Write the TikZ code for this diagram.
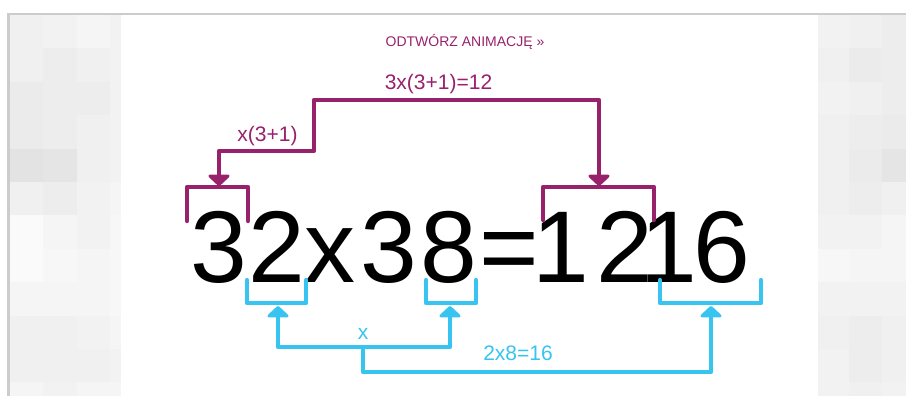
\documentclass[tikz,border=0pt]{standalone}
\usepackage{fontspec}
\setmainfont{Liberation Sans}
\usetikzlibrary{arrows.meta,positioning}
\definecolor{mag}{RGB}{152,33,108}
\definecolor{sky}{RGB}{56,196,240}

\begin{document}
\begin{tikzpicture}[x=1pt,y=-1pt,
    digit/.style={inner sep=0pt,anchor=base,font=\fontsize{102}{102}\selectfont},
    lbl/.style={inner sep=0pt,anchor=base,font=\fontsize{21}{21}\selectfont},
    magline/.style={draw=mag,line width=4.2pt,line join=round,line cap=round},
    skyline/.style={draw=sky,line width=4.2pt,line join=round,line cap=round},
    headarrow/.style={-{Triangle[width=25pt,length=12pt,round]}},
    twoheads/.style={{Triangle[width=25pt,length=12pt,round]}-{Triangle[width=25pt,length=12pt,round]}}]
  \useasboundingbox (0,0) rectangle (906,396);
  % grey side panels
  \foreach \r/\a/\b/\c/\d/\e/\f/\g in {0/6/5/4/5/5/6/7, 1/6/7/6/5/6/8/7, 2/8/7/7/5/5/6/7,
      3/8/7/6/5/6/7/8, 4/11/10/6/5/6/8/10, 5/6/7/5/4/6/7/6, 6/2/4/5/3/5/5/4,
      7/2/3/4/3/3/4/4, 8/4/4/4/3/5/5/5, 9/6/6/5/4/6/7/6, 10/6/6/6/5/5/7/6, 11/4/5/4/4/5/6/5} {
    \fill[black!\a] (10,{15+33.4*\r}) rectangle (43,{48.4+33.4*\r});
    \fill[black!\b] (43,{15+33.4*\r}) rectangle (77,{48.4+33.4*\r});
    \fill[black!\c] (77,{15+33.4*\r}) rectangle (110,{48.4+33.4*\r});
    \fill[black!\d] (110,{15+33.4*\r}) rectangle (121,{48.4+33.4*\r});
    \fill[black!\e] (818,{15+33.4*\r}) rectangle (849,{48.4+33.4*\r});
    \fill[black!\f] (849,{15+33.4*\r}) rectangle (882,{48.4+33.4*\r});
    \fill[black!\g] (882,{15+33.4*\r}) rectangle (906,{48.4+33.4*\r});
  }
  \draw[black!20,line width=2.5pt] (8.5,396) -- (8.5,14) -- (906,14);

  % title and equation
  \node[lbl,font=\fontsize{14}{14}\selectfont,text=mag] (title) at (465,47) {ODTWÓRZ ANIMACJĘ »};
  \node[digit] (n3a) at (219,282) {3};
  \node[digit] (n2a) at (277,282) {2};
  \node[digit] (nx)  at (330,282) {x};
  \node[digit] (n3b) at (389,282) {3};
  \node[digit] (n8)  at (449,282) {8};
  \node[digit] (neq) at (509,282) {=};
  \node[digit] (n1a) at (561,282) {1};
  \node[digit] (n2b) at (624.5,282) {2};
  \node[digit] (n1b) at (669,282) {1};
  \node[digit] (n6)  at (722,282) {6};

  % brackets
  \draw[magline] (187,221) -- (187,187) -- (248,187) -- (248,221);
  \draw[magline] (543,220) -- (543,187) -- (654,187) -- (654,220);
  \draw[skyline] (247,280) -- (247,303) -- (306,303) -- (306,280);
  \draw[skyline] (426,280) -- (426,303) -- (476,303) -- (476,280);
  \draw[skyline] (660,280) -- (660,303) -- (761,303) -- (761,280);
  \coordinate (p3)  at (219,186);
  \coordinate (p12) at (599,186);
  \coordinate (b2)  at (278,306);
  \coordinate (b8)  at (450,306);
  \coordinate (b16) at (711,306);
  \coordinate (xjoin) at (363,347);

  % purple connectors
  \draw[magline,twoheads] (p3) -- (219,151) -| (314,100) -| (p12);
  \node[lbl,text=mag] (tens) at (267.5,142) {x(3+1)};
  \node[lbl,text=mag] (hund) at (438.5,89) {3x(3+1)=12};

  % blue connectors
  \draw[skyline,twoheads] (b2) -- (278,347) -| (b8);
  \draw[skyline,headarrow] (xjoin) -- (363,372) -| (b16);
  \node[lbl,text=sky] (times) at (363,339) {x};
  \node[lbl,text=sky] (units) at (518,360) {2x8=16};
\end{tikzpicture}
\end{document}
